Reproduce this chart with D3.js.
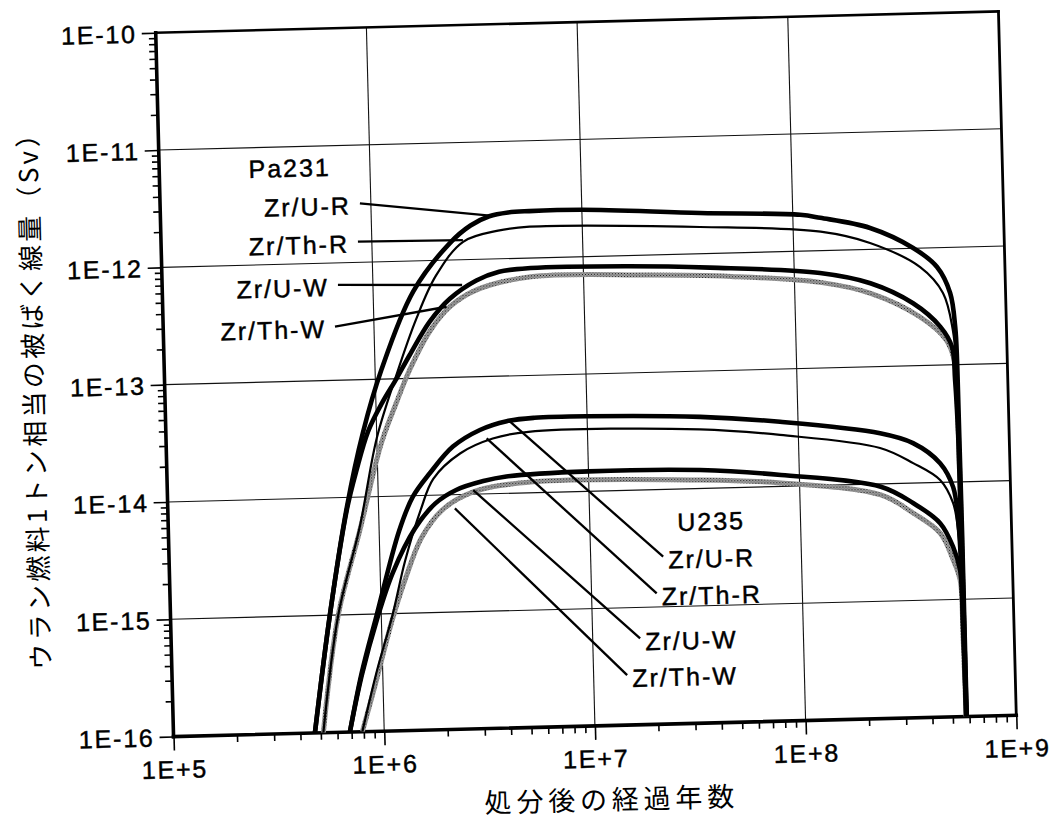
<!DOCTYPE html>
<html>
<head>
<meta charset="utf-8">
<script src="https://cdn.jsdelivr.net/npm/d3@7"></script>
<style>
  body { margin: 0; background: #fff; }
  svg { display: block; background: #fff; }
</style>
</head>
<body>
<svg id="chart" width="1054" height="821"></svg>
<script>
// values read off the scanned figure as exponents:
// [log10(years after disposal), log10(dose in Sv per tonne of uranium fuel)]
const pa231_ZrUR = [[5.671,-16],[5.756,-15],[5.85,-14.08],[5.935,-13.45],[6.03,-12.92],[6.19,-12.26],[6.37,-11.855],[6.47,-11.71],[6.56,-11.635],[6.65,-11.607],[6.75,-11.6],[7.0,-11.6],[7.56,-11.653],[8.035,-11.69],[8.13,-11.72],[8.365,-11.817],[8.567,-11.997],[8.678,-12.164],[8.737,-12.388],[8.757,-12.68],[8.762,-13.0],[8.765,-16]];
const pa231_ZrThR = [[5.711,-16],[5.796,-15],[5.909,-14.25],[6.0,-13.5],[6.1,-12.97],[6.2,-12.5],[6.3,-12.13],[6.433,-11.847],[6.6,-11.76],[6.75,-11.733],[7.558,-11.772],[8.13,-11.838],[8.363,-11.945],[8.598,-12.161],[8.703,-12.386],[8.745,-12.7],[8.757,-13.0],[8.762,-16]];
const pa231_ZrUW = [[5.671,-16],[5.756,-15],[5.85,-14.1],[5.9,-13.77],[5.96,-13.44],[6.03,-13.2],[6.1,-13.0],[6.166,-12.8],[6.265,-12.52],[6.363,-12.33],[6.491,-12.18],[6.6,-12.11],[6.75,-12.085],[7.2,-12.09],[7.6,-12.12],[8.122,-12.19],[8.36,-12.288],[8.56,-12.468],[8.686,-12.673],[8.739,-12.846],[8.75,-13.13],[8.758,-13.6],[8.764,-16]];
const pa231_ZrThW = [[5.711,-16],[5.796,-15],[5.909,-14.28],[6.02,-13.55],[6.098,-13.2],[6.166,-12.92],[6.265,-12.6],[6.363,-12.397],[6.491,-12.26],[6.75,-12.16],[7.3,-12.17],[7.7,-12.2],[8.122,-12.27],[8.36,-12.374],[8.59,-12.584],[8.713,-12.788],[8.748,-12.96],[8.757,-13.3],[8.762,-16]];

const u235_ZrUR = [[5.837,-16],[5.9,-15.5],[5.978,-15.01],[6.095,-14.295],[6.164,-14.008],[6.248,-13.81],[6.36,-13.59],[6.49,-13.454],[6.618,-13.385],[6.75,-13.362],[7.0,-13.36],[7.536,-13.39],[7.915,-13.449],[8.388,-13.568],[8.543,-13.659],[8.669,-13.836],[8.728,-14.043],[8.748,-14.325],[8.755,-14.607],[8.762,-16]];
const u235_ZrThR = [[5.896,-16],[5.97,-15.5],[6.052,-15.02],[6.12,-14.55],[6.2,-14.12],[6.263,-13.86],[6.393,-13.65],[6.55,-13.53],[6.72,-13.48],[7.534,-13.496],[7.913,-13.561],[8.386,-13.694],[8.541,-13.83],[8.667,-13.98],[8.726,-14.18],[8.746,-14.41],[8.755,-14.8],[8.762,-16]];
const u235_ZrUW = [[5.837,-16],[5.9,-15.52],[5.98,-15.04],[6.06,-14.65],[6.17,-14.28],[6.27,-14.07],[6.37,-13.96],[6.5,-13.89],[6.61,-13.856],[7.0,-13.83],[7.53,-13.843],[7.913,-13.902],[8.385,-14.024],[8.536,-14.17],[8.662,-14.347],[8.721,-14.554],[8.751,-14.752],[8.758,-15.2],[8.763,-16]];
const u235_ZrThW = [[5.896,-16],[5.96,-15.62],[6.052,-15.05],[6.12,-14.7],[6.2,-14.36],[6.3,-14.13],[6.451,-13.98],[6.737,-13.907],[7.53,-13.928],[7.912,-13.97],[8.384,-14.094],[8.535,-14.255],[8.661,-14.432],[8.72,-14.665],[8.75,-14.837],[8.757,-15.3],[8.762,-16]];

const caseNames = ["Zr/U-R", "Zr/Th-R", "Zr/U-W", "Zr/Th-W"];
// leader lines: [label end, point on curve], same exponent units
const pa231Leaders = [[[5.948,-11.497],[6.563,-11.63]],[[5.934,-11.823],[6.432,-11.832]],[[5.834,-12.188],[6.423,-12.215]],[[5.815,-12.542],[6.347,-12.397]]];
const u235Leaders = [[[7.344,-14.573],[6.634,-13.39]],[[7.309,-14.885],[6.521,-13.527]],[[7.225,-15.265],[6.451,-13.965]],[[7.159,-15.574],[6.362,-14.117]]];
const groupTitles = ["Pa231", "U235"];
const groupTitlePos = [[5.619,-11.18],[7.576,-14.28]];

const xTickLabels = ["1E+5", "1E+6", "1E+7", "1E+8", "1E+9"];
const yTickLabels = ["1E-16", "1E-15", "1E-14", "1E-13", "1E-12", "1E-11", "1E-10"];
const xTitle = "処分後の経過年数";
const yTitle = "ウラン燃料1トン相当の被ばく線量（Sv）";

const width = 843;
const height = 704;
const margin = {left: 164.5, top: 22};
const tilt = -1.45; // the scanned page sits a little crooked
const latin = "'Liberation Sans', Arial, Helvetica, sans-serif";
const cjk = "'Noto Sans CJK JP', 'Noto Sans', sans-serif";

const svg = d3.select("svg#chart");
const page = svg.append("g").attr("transform", `rotate(${tilt}, 586, 374)`);
const plot = page.append("g").attr("transform", `translate(${margin.left},${margin.top})`);

const x = d3.scaleLog().domain([+xTickLabels[0], +xTickLabels[xTickLabels.length - 1]]).range([0, width]);
const y = d3.scaleLog().domain([+yTickLabels[0], +yTickLabels[yTickLabels.length - 1]]).range([height, 0]);
const px = d => x(Math.pow(10, d[0]));
const py = d => y(Math.pow(10, d[1]));

// stipple used for the grey Th-W curves
const defs = svg.append("defs");
const pat = defs.append("pattern")
  .attr("id", "stipple")
  .attr("patternUnits", "userSpaceOnUse")
  .attr("width", 3).attr("height", 3);
pat.append("rect").attr("width", 3).attr("height", 3).attr("fill", "#a2a2a2");
pat.append("rect").attr("x", 0).attr("y", 0).attr("width", 1).attr("height", 1).attr("fill", "#1a1a1a");
pat.append("rect").attr("x", 1.5).attr("y", 1.5).attr("width", 1).attr("height", 1).attr("fill", "#3a3a3a");

defs.append("clipPath").attr("id", "plot-clip")
  .append("rect").attr("width", width).attr("height", height);

// grid
const majorX = xTickLabels.map(Number);
const majorY = yTickLabels.map(Number);
plot.append("g").attr("id", "grid")
  .attr("stroke", "#111").attr("stroke-width", 1.1)
  .call(g => g.selectAll("line.gx").data(majorX.slice(1, -1)).join("line")
    .attr("x1", d => x(d)).attr("x2", d => x(d)).attr("y1", 0).attr("y2", height))
  .call(g => g.selectAll("line.gy").data(majorY.slice(1, -1)).join("line")
    .attr("x1", 0).attr("x2", width).attr("y1", d => y(d)).attr("y2", d => y(d)));

// axes: minor ticks and major ticks drawn separately
const minorX = x.ticks().filter(d => !majorX.some(m => Math.abs(m - d) / m < 1e-6));
const minorY = y.ticks().filter(d => !majorY.some(m => Math.abs(m - d) / m < 1e-6));

function styleAxis(g) {
  g.select(".domain").remove();
  g.selectAll(".tick line").attr("stroke", "#000").attr("stroke-width", 1.6);
  g.selectAll(".tick text")
    .attr("fill", "#000")
    .attr("stroke", "#000")
    .attr("stroke-width", 0.45)
    .style("font-family", latin)
    .style("font-size", "25px")
    .style("letter-spacing", "1.8px");
}

plot.append("g").attr("transform", `translate(0,${height})`)
  .call(d3.axisBottom(x).tickValues(minorX).tickSize(7).tickFormat(""))
  .call(styleAxis);
plot.append("g").attr("transform", `translate(0,${height})`)
  .call(d3.axisBottom(x).tickValues(majorX).tickSize(14).tickPadding(10)
    .tickFormat((d, i) => xTickLabels[i]))
  .call(styleAxis);
plot.append("g")
  .call(d3.axisLeft(y).tickValues(minorY).tickSize(7).tickFormat(""))
  .call(styleAxis);
plot.append("g")
  .call(d3.axisLeft(y).tickValues(majorY).tickSize(14).tickPadding(5)
    .tickFormat((d, i) => yTickLabels[i]))
  .call(styleAxis)
  .call(g => g.selectAll(".tick text").attr("dy", "0.36em"));

// frame
const frame = plot.append("g").attr("stroke", "#000").attr("stroke-linecap", "square");
frame.append("line").attr("x1", 0).attr("x2", width).attr("y1", 0).attr("y2", 0).attr("stroke-width", 2.6);
frame.append("line").attr("x1", width).attr("x2", width).attr("y1", 0).attr("y2", height).attr("stroke-width", 2.8);
frame.append("line").attr("x1", 0).attr("x2", 0).attr("y1", 0).attr("y2", height).attr("stroke-width", 3.6);
frame.append("line").attr("x1", 0).attr("x2", width).attr("y1", height).attr("y2", height).attr("stroke-width", 3.6);

// curves
const line = d3.line().x(px).y(py).curve(d3.curveCatmullRom.alpha(0.5));
const curves = [
  {data: pa231_ZrThW, stroke: "url(#stipple)", w: 5},
  {data: u235_ZrThW, stroke: "url(#stipple)", w: 5},
  {data: pa231_ZrThR, stroke: "#000", w: 2.2},
  {data: u235_ZrThR, stroke: "#000", w: 2.2},
  {data: pa231_ZrUW, stroke: "#000", w: 4.6},
  {data: u235_ZrUW, stroke: "#000", w: 4.6},
  {data: pa231_ZrUR, stroke: "#000", w: 4.6},
  {data: u235_ZrUR, stroke: "#000", w: 4.6}
];
plot.append("g").attr("id", "curves")
  .attr("clip-path", "url(#plot-clip)")
  .attr("fill", "none")
  .selectAll("path")
  .data(curves)
  .join("path")
    .attr("d", d => line(d.data))
    .attr("stroke", d => d.stroke)
    .attr("stroke-width", d => d.w)
    .attr("stroke-linejoin", "round");

// annotations
const notes = plot.append("g").attr("id", "notes")
  .attr("stroke", "#000")
  .style("font-family", latin)
  .style("font-size", "25px")
  .style("letter-spacing", "2px");

notes.selectAll("line.pa").data(pa231Leaders).join("line")
  .attr("x1", d => px(d[0])).attr("y1", d => py(d[0]))
  .attr("x2", d => px(d[1])).attr("y2", d => py(d[1]))
  .attr("stroke-width", 2.3);
notes.selectAll("text.pa").data(pa231Leaders).join("text")
  .attr("x", d => px(d[0]) - 9)
  .attr("y", d => py(d[0]) + 2)
  .attr("dy", "0.36em")
  .attr("text-anchor", "end")
  .attr("stroke-width", 0.45)
  .text((d, i) => caseNames[i]);

notes.selectAll("line.u").data(u235Leaders).join("line")
  .attr("x1", d => px(d[0])).attr("y1", d => py(d[0]))
  .attr("x2", d => px(d[1])).attr("y2", d => py(d[1]))
  .attr("stroke-width", 2.3);
notes.selectAll("text.u").data(u235Leaders).join("text")
  .attr("x", d => px(d[0]) + 5)
  .attr("y", d => py(d[0]) + 3)
  .attr("dy", "0.36em")
  .attr("text-anchor", "start")
  .attr("stroke-width", 0.45)
  .text((d, i) => caseNames[i]);

notes.selectAll("text.group").data(groupTitles).join("text")
  .attr("x", (d, i) => px(groupTitlePos[i]))
  .attr("y", (d, i) => py(groupTitlePos[i]))
  .attr("dy", "0.36em")
  .attr("text-anchor", "middle")
  .attr("stroke-width", 0.45)
  .text(d => d);

// axis titles
page.append("text")
  .attr("transform", "translate(34,380) rotate(-90)")
  .attr("text-anchor", "middle")
  .attr("dy", "0.36em")
  .style("font-family", cjk)
  .style("font-size", "26px")
  .style("letter-spacing", "3.3px")
  .text(yTitle);

page.append("text")
  .attr("x", 601)
  .attr("y", 810)
  .attr("text-anchor", "middle")
  .style("font-family", cjk)
  .style("font-size", "27px")
  .style("letter-spacing", "4.8px")
  .text(xTitle);
</script>
</body>
</html>
